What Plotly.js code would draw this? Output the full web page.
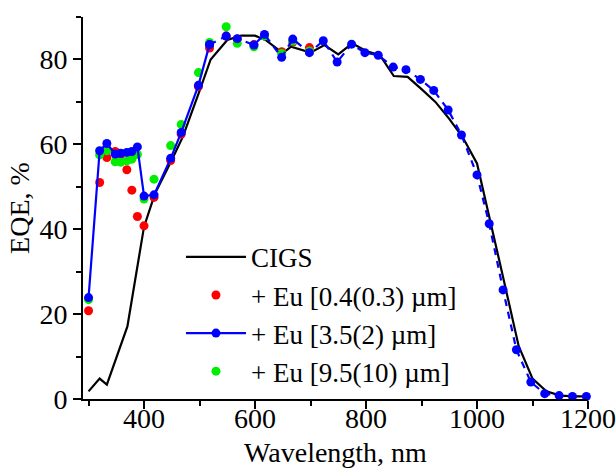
<!DOCTYPE html>
<html>
<head>
<meta charset="utf-8">
<script src="https://cdn.plot.ly/plotly-3.0.1.min.js"></script>
<style>html,body{margin:0;padding:0;background:#fff;}#chart{width:616px;height:468px;}</style>
</head>
<body>
<div id="chart"></div>
<script>
// CIGS reference cell
const cigsX = [300, 320, 333, 370, 400, 420, 450, 470, 500, 520, 550, 575, 600, 620, 650, 665, 700, 725, 750, 775, 800, 825, 850, 875, 900, 925, 950, 975, 1000, 1025, 1050, 1075, 1100, 1125, 1150, 1175, 1200];
const cigsY = [1.8, 4.8, 3.4, 17.1, 40.6, 48.5, 56.3, 61.8, 72.6, 80.0, 84.6, 85.6, 85.6, 84.5, 81.5, 83.0, 81.6, 83.4, 81.2, 83.8, 82.0, 81.0, 76.1, 75.9, 73.0, 70.0, 66.0, 61.5, 55.5, 41.5, 27.0, 12.5, 4.8, 1.8, 0.8, 0.6, 0.6];

// + Eu [3.5(2) um]
const euX = [300, 320, 333, 348, 358, 369, 378, 388, 400, 418, 448, 467, 498, 518, 548, 568, 598, 617, 648, 668, 698, 723, 748, 774, 798, 822, 849, 872, 898, 922, 948, 972, 1000, 1022, 1047, 1071, 1097, 1122, 1148, 1172, 1197];
const eu35Y = [23.9, 58.5, 60.2, 57.7, 57.9, 58.1, 58.3, 59.4, 47.8, 48.1, 56.7, 62.8, 73.9, 83.5, 85.5, 84.9, 83.4, 85.9, 80.5, 84.8, 81.6, 84.4, 79.4, 83.6, 81.6, 81.0, 78.2, 77.6, 75.3, 72.7, 68.1, 62.2, 52.8, 41.3, 25.7, 11.6, 4.0, 1.25, 0.8, 0.6, 0.6];

// + Eu [0.4(0.3) um] and + Eu [9.5(10) um] (visible part)
const euShortX = [300, 320, 333, 348, 358, 369, 378, 388, 400, 418, 448, 467, 498, 518, 548, 568, 598, 617, 648, 668, 698];
const eu04Y = [20.8, 51.0, 56.9, 58.3, 57.6, 54.0, 49.2, 43.0, 40.8, 47.5, 56.2, 62.4, 73.6, 82.7, 85.5, 84.8, 83.5, 85.7, 81.8, 84.1, 82.8];
const eu95Y = [23.4, 57.5, 58.5, 55.9, 55.8, 56.1, 56.5, 57.6, 47.1, 51.8, 59.7, 64.7, 76.9, 84.0, 87.7, 83.8, 83.0, 85.5, 81.4, 84.3, 82.0];

const names = ['CIGS', '+ Eu [0.4(0.3) µm]', '+ Eu [3.5(2) µm]', '+ Eu [9.5(10) µm]'];
const split = 14; // solid line section ends here

const FONT = 'Liberation Serif, Times New Roman, serif';
const FS = 28;
const traces = [
  {x: cigsX, y: cigsY, mode: 'lines', name: names[0], legendrank: 1, cliponaxis: false,
   line: {color: '#000000', width: 2.2}},
  {x: euShortX, y: eu04Y, mode: 'markers', name: names[1], legendrank: 2, cliponaxis: false,
   marker: {color: '#ff0000', size: 9}},
  {x: euShortX, y: eu95Y, mode: 'markers', name: names[3], legendrank: 4, cliponaxis: false,
   marker: {color: '#00ee00', size: 9}},
  {x: euX.slice(split - 1), y: eu35Y.slice(split - 1), mode: 'lines+markers', name: names[2],
   showlegend: false, cliponaxis: false, line: {color: '#0000ff', width: 2.2, dash: '7px,6px'},
   marker: {color: '#0000ff', size: 9}},
  {x: euX.slice(0, split), y: eu35Y.slice(0, split), mode: 'lines+markers', name: names[2], legendrank: 3,
   cliponaxis: false, line: {color: '#0000ff', width: 2.2}, marker: {color: '#0000ff', size: 9}}
];

const layout = {
  width: 616, height: 468,
  margin: {l: 83, r: 28, t: 17, b: 69},
  paper_bgcolor: '#ffffff', plot_bgcolor: '#ffffff',
  font: {family: FONT, size: FS, color: '#000000'},
  showlegend: true,
  legend: {x: 0.194, y: 0.435, xanchor: 'left', yanchor: 'top', bgcolor: 'rgba(0,0,0,0)',
           font: {family: FONT, size: 27}, itemwidth: 60, tracegroupgap: 0},
  xaxis: {
    range: [290, 1200], showgrid: false, zeroline: false,
    showline: true, linecolor: '#000000', linewidth: 2,
    ticks: 'outside', ticklen: 8, tickwidth: 2, tickcolor: '#000000',
    tick0: 400, dtick: 200, ticklabelstandoff: -15,
    minor: {ticks: 'outside', ticklen: 5, tickwidth: 2, tickcolor: '#000000', dtick: 100, tick0: 300, showgrid: false},
    tickfont: {family: FONT, size: FS},
    title: {text: 'Wavelength, nm', font: {family: FONT, size: FS}, standoff: 13},
    automargin: false
  },
  yaxis: {
    range: [0, 90], showgrid: false, zeroline: false,
    showline: true, linecolor: '#000000', linewidth: 2,
    ticks: 'outside', ticklen: 8, tickwidth: 2, tickcolor: '#000000',
    tick0: 0, dtick: 20,
    minor: {ticks: 'outside', ticklen: 5, tickwidth: 2, tickcolor: '#000000', dtick: 10, showgrid: false},
    tickfont: {family: FONT, size: FS},
    title: {text: 'EQE, %', font: {family: FONT, size: FS}, standoff: 2},
    automargin: false
  }
};

Plotly.newPlot('chart', traces, layout, {displayModeBar: false, staticPlot: true});
</script>
</body>
</html>
